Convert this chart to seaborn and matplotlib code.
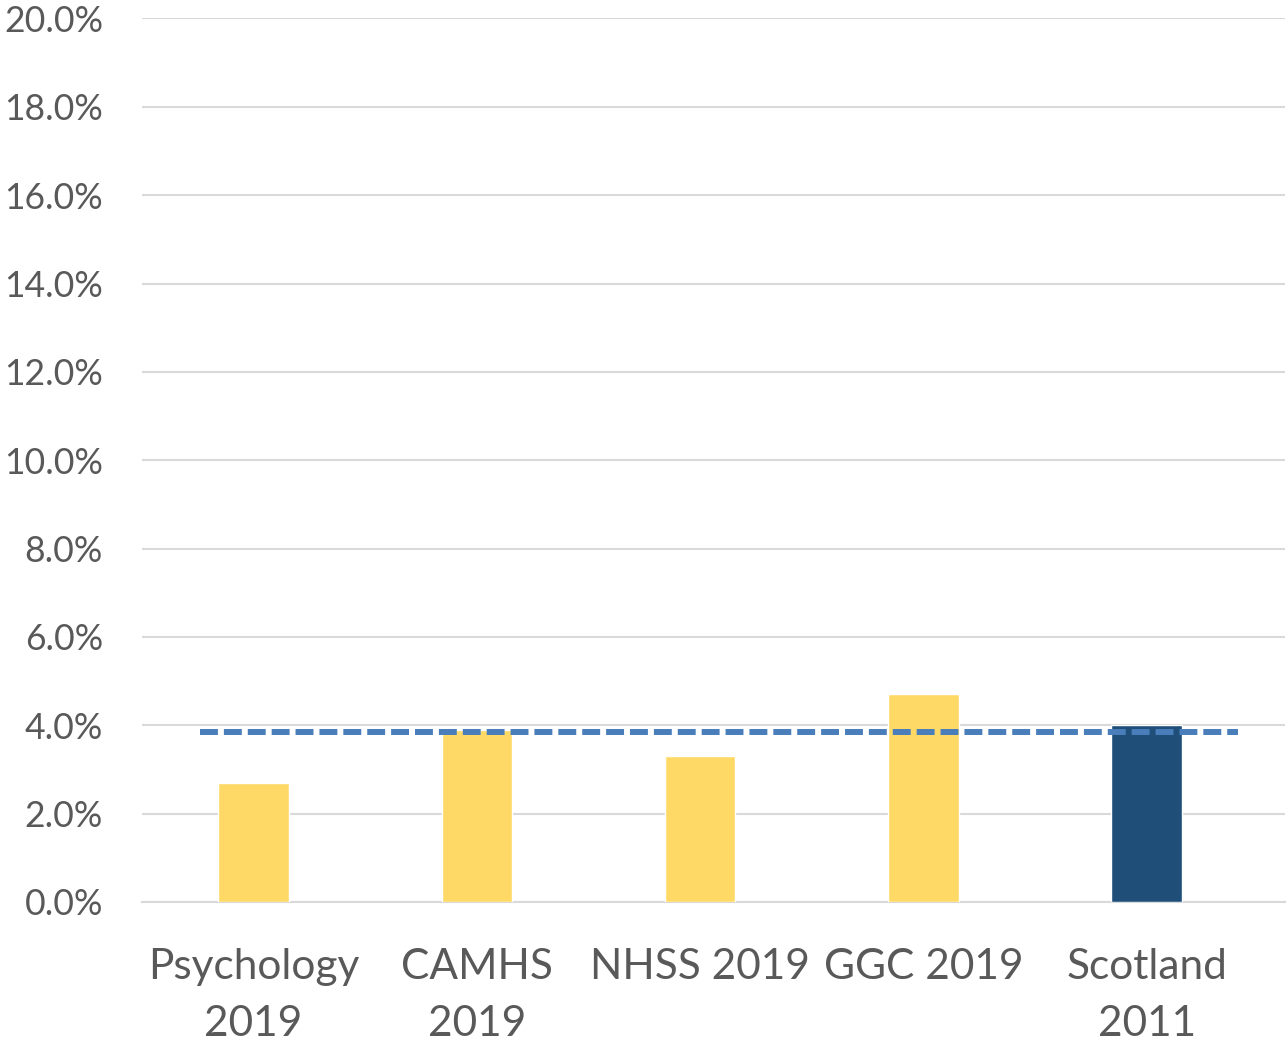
import matplotlib
matplotlib.use("Agg")
import matplotlib.pyplot as plt
import seaborn as sns
import pandas as pd
from matplotlib.ticker import FuncFormatter, MultipleLocator

categories = ["Psychology\n2019", "CAMHS\n2019", "NHSS 2019", "GGC 2019", "Scotland\n2011"]
values = [2.7, 3.9, 3.3, 4.7, 4.0]
bar_colors = ["#FFD966", "#FFD966", "#FFD966", "#FFD966", "#1F4E79"]
reference_level = 3.85

sns.set_theme(style="white")
plt.rcParams["font.family"] = ["Lato", "DejaVu Sans"]

df = pd.DataFrame({"category": categories, "value": values})

fig = plt.figure(figsize=(12.88, 10.43), dpi=100)
ax = fig.add_axes([0.1102, 0.1352, 0.8875, 0.8471])

sns.barplot(data=df, x="category", y="value", hue="category",
            palette=dict(zip(categories, bar_colors)), legend=False,
            width=0.315, saturation=1, ax=ax, zorder=3)

ax.plot([-0.24, 4.41], [reference_level, reference_level], color="#4A7EBB",
        linewidth=4.3, linestyle=(0, (3, 1)), solid_capstyle="butt",
        dash_capstyle="butt", zorder=4)

ax.set_xlim(-0.5, 4.62)
ax.set_ylim(0, 20)
ax.yaxis.set_major_locator(MultipleLocator(2))
ax.yaxis.set_major_formatter(FuncFormatter(lambda v, _: f"{v:.1f}%"))
ax.grid(axis="y", color="#D9D9D9", linewidth=1.5, zorder=0)
ax.set_axisbelow(True)
for side in ["left", "right", "top"]:
    ax.spines[side].set_visible(False)
ax.spines["bottom"].set_color("#D9D9D9")
ax.spines["bottom"].set_linewidth(1.5)
ax.set_xlabel("")
ax.set_ylabel("")
ax.tick_params(axis="y", length=0, pad=28, labelsize=25.6, labelcolor="#595959")
ax.tick_params(axis="x", length=0, pad=33, labelsize=30.5, labelcolor="#595959")
for lbl in ax.get_xticklabels():
    lbl.set_linespacing(1.62)

fig.savefig("out.png", dpi=100)
